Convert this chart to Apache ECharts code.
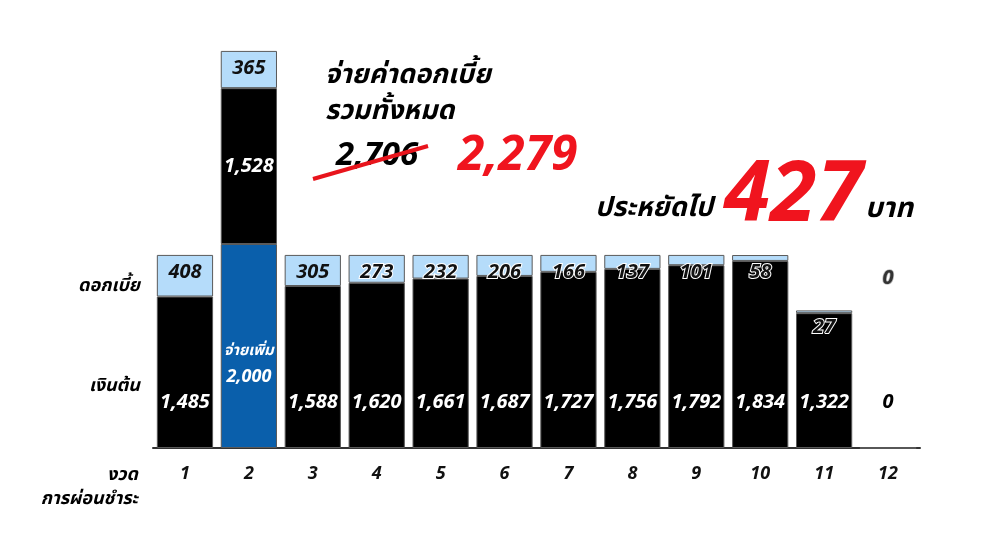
<!DOCTYPE html>
<html>
<head>
<meta charset="utf-8">
<script src="https://cdn.jsdelivr.net/npm/echarts@6/dist/echarts.min.js"></script>
<style>
html,body{margin:0;padding:0;background:#fff;}
#main{width:1000px;height:557px;}
</style>
</head>
<body>
<div id="main"></div>
<script>
// ---- data ----
const periods = ['1','2','3','4','5','6','7','8','9','10','11','12'];
const extraPayment = [0, 2000, 0, 0, 0, 0, 0, 0, 0, 0, 0, 0];
const principal = [1485, 1528, 1588, 1620, 1661, 1687, 1727, 1756, 1792, 1834, 1322, 0];
const interest = [408, 365, 305, 273, 232, 206, 166, 137, 101, 58, 27, 0];
const interestBefore = '2,706';
const interestAfter = '2,279';
const saved = '427';

const FONT = "'Noto Sans', 'Noto Sans Thai', 'Open Sans', sans-serif";
const fmt = v => Number(v).toLocaleString('en-US');
const BORDER = '#5a5a5a';

const extraData = extraPayment.map(v => v > 0 ? v : null);

const principalData = principal.map((v, i) => {
  const item = { value: v };
  if (extraPayment[i] > 0) {
    item.label = { position: 'inside' };
  } else if (v === 0) {
    item.label = { color: '#000' };
  }
  return item;
});

const interestData = interest.map((v, i) => {
  const item = { value: v };
  if (v === 0) {
    item.label = { position: 'insideBottom', distance: 160, color: '#333', textBorderColor: '#bbb', textBorderWidth: 1.5 };
  } else if (v < 300) {
    item.label = { textBorderColor: '#fff', textBorderWidth: 2 };
  }
  return item;
});

const chart = echarts.init(document.getElementById('main'));
const txt = (text, left, top, font, fill, extra) => Object.assign({
  type: 'text', left, top, z: 10,
  style: { text, font, fill }
}, extra || {});

chart.setOption({
  animation: false,
  backgroundColor: '#fff',
  grid: { left: 153, right: 80, top: 40, bottom: 109, containLabel: false },
  xAxis: {
    type: 'category',
    data: periods,
    axisLine: { show: true, lineStyle: { color: '#333', width: 2 } },
    axisTick: { show: false },
    axisLabel: { fontFamily: FONT, fontSize: 18, fontStyle: 'italic', fontWeight: 'bold', color: '#111', margin: 17 }
  },
  yAxis: { type: 'value', min: 0, max: 4000, show: false, splitLine: { show: false } },
  series: [
    {
      name: 'จ่ายเพิ่ม', type: 'bar', stack: 'total', barCategoryGap: '12%',
      data: extraData,
      itemStyle: { color: '#0a5fab', borderColor: BORDER, borderWidth: 1 },
      label: {
        show: true, position: 'insideBottom', distance: 58,
        formatter: p => '{a|จ่ายเพิ่ม}\n{b|' + fmt(p.value) + '}',
        rich: {
          a: { fontFamily: FONT, fontSize: 15, fontWeight: 'bold', fontStyle: 'italic', color: '#fff', lineHeight: 26 },
          b: { fontFamily: FONT, fontSize: 18, fontWeight: 'bold', fontStyle: 'italic', color: '#fff', lineHeight: 26 }
        }
      }
    },
    {
      name: 'เงินต้น', type: 'bar', stack: 'total',
      data: principalData,
      itemStyle: { color: '#000', borderColor: BORDER, borderWidth: 1 },
      label: {
        show: true, position: 'insideBottom', distance: 36,
        formatter: p => fmt(p.value),
        fontFamily: FONT, fontSize: 20, fontWeight: 'bold', fontStyle: 'italic', color: '#fff'
      }
    },
    {
      name: 'ดอกเบี้ย', type: 'bar', stack: 'total',
      data: interestData,
      itemStyle: { color: '#b5dcfa', borderColor: BORDER, borderWidth: 1 },
      label: {
        show: true, position: 'insideTop', distance: 7,
        formatter: p => fmt(p.value),
        fontFamily: FONT, fontSize: 20, fontWeight: 'bold', fontStyle: 'italic', color: '#111'
      }
    }
  ],
  graphic: [
    txt('จ่ายค่าดอกเบี้ย', 325, 62, "italic bold 27px " + FONT, '#000'),
    txt('รวมทั้งหมด', 325, 98, "italic bold 27px " + FONT, '#000'),
    txt(interestBefore, 336, 139, "italic bold 33px " + FONT, '#000'),
    { type: 'line', z: 11, shape: { x1: 313, y1: 179, x2: 428, y2: 146 }, style: { stroke: '#e8141c', lineWidth: 4 } },
    txt(interestAfter, 458, 132, "italic bold 48px " + FONT, '#f0141e'),
    txt('ประหยัดไป', 595, 195, "italic bold 27px " + FONT, '#000'),
    txt(saved, 724, 155, "italic bold 84px " + FONT, '#f0141e'),
    txt('บาท', 865, 195, "italic bold 28px " + FONT, '#000'),
    txt('ดอกเบี้ย', null, 277, "italic bold 18px " + FONT, '#000', { right: 860, left: undefined }),
    txt('เงินต้น', null, 377, "italic bold 18px " + FONT, '#000', { right: 860, left: undefined }),
    txt('งวด', null, 466, "italic bold 18px " + FONT, '#000', { right: 862, left: undefined }),
    txt('การผ่อนชำระ', null, 490, "italic bold 18px " + FONT, '#000', { right: 862, left: undefined })
  ]
});
</script>
</body>
</html>
